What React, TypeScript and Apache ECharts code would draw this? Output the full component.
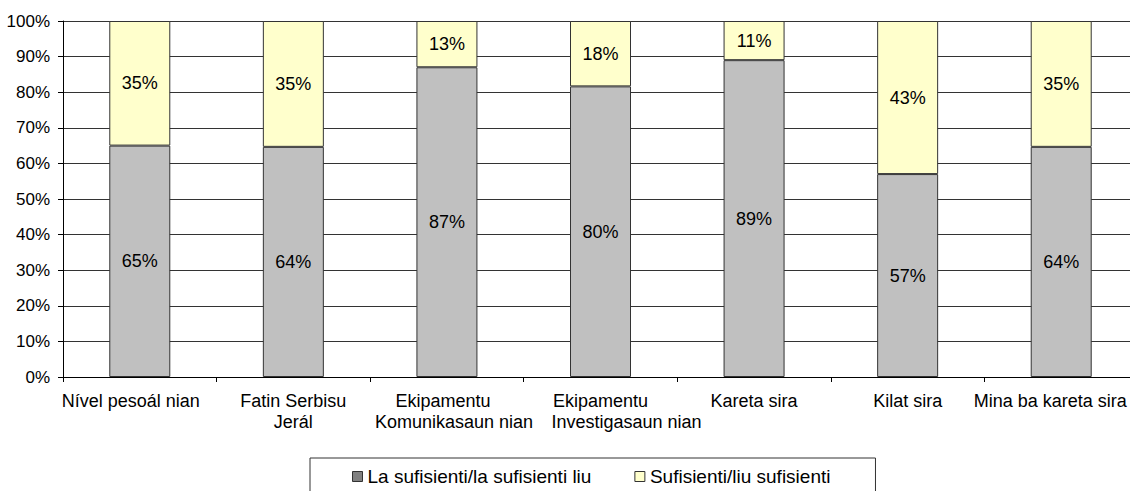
import React, { useEffect, useRef } from "react";
import * as echarts from "echarts";

const categories = [
  "Nível pesoál nian",
  "Fatin Serbisu\nJerál",
  "Ekipamentu\nKomunikasaun nian",
  "Ekipamentu\nInvestigasaun nian",
  "Kareta sira",
  "Kilat sira",
  "Mina ba kareta sira",
];
const insufficient = [65, 64, 87, 80, 89, 57, 64];
const sufficient = [35, 35, 13, 18, 11, 43, 35];
const seriesNames = ["La sufisienti/la sufisienti liu", "Sufisienti/liu sufisienti"];
const yTicks = [0, 10, 20, 30, 40, 50, 60, 70, 80, 90, 100];

// horizontal nudges (px) of each label line, as placed in the reference
const labelLineShift = [[-9], [0, 0], [-4, 7], [0, 26], [0], [0], [-11]];

const FONT = "'Liberation Sans', Arial, sans-serif";

export default function App() {
  const ref = useRef<HTMLDivElement>(null);
  useEffect(() => {
    if (!ref.current) return;
    const chart = echarts.init(ref.current, undefined, { renderer: "svg" });
    const totals = insufficient.map((v, i) => v + sufficient[i]);
    const mk = (arr: number[]) =>
      arr.map((v, i) => ({ value: (v / totals[i]) * 100, raw: v }));
    const labelCfg = {
      show: true,
      position: "inside",
      color: "#000",
      fontSize: 18,
      fontFamily: FONT,
      formatter: (p: any) => p.data.raw + "%",
    };
    const rich: Record<string, any> = {};
    labelLineShift.forEach((lines, i) =>
      lines.forEach((s, j) => {
        rich[`c${i}l${j}`] = {
          fontSize: 18,
          fontFamily: FONT,
          color: "#000",
          lineHeight: 21,
          align: "center",
          padding: s >= 0 ? [0, 0, 0, 2 * s] : [0, -2 * s, 0, 0],
        };
      })
    );
    chart.setOption({
      animation: false,
      textStyle: { fontFamily: FONT },
      grid: {
        left: 63,
        top: 21,
        height: 356,
        width: 1075,
        containLabel: false,
        outerBoundsMode: "none",
      },
      legend: {
        left: 310,
        top: 458,
        orient: "horizontal",
        borderColor: "#333",
        borderWidth: 1,
        borderRadius: 0,
        padding: [9, 45, 20, 42],
        itemGap: 43,
        itemWidth: 10,
        itemHeight: 10,
        icon: "rect",
        textStyle: { fontSize: 19, color: "#000", fontFamily: FONT },
        data: [
          { name: seriesNames[0], itemStyle: { color: "#808080", borderColor: "#333", borderWidth: 1 } },
          { name: seriesNames[1], itemStyle: { color: "#ffffcc", borderColor: "#333", borderWidth: 1 } },
        ],
      },
      xAxis: {
        type: "category",
        data: categories,
        boundaryGap: true,
        axisLine: { show: true, lineStyle: { color: "#000", width: 1 } },
        axisTick: { show: true, alignWithLabel: false, length: 5, lineStyle: { color: "#000" } },
        axisLabel: {
          interval: 0,
          color: "#000",
          fontSize: 18,
          fontFamily: FONT,
          margin: 13,
          lineHeight: 21,
          rich,
          formatter: (v: string, idx: number) =>
            v
              .split("\n")
              .map((line, j) => `{c${idx}l${j}|${line}}`)
              .join("\n"),
        },
        splitLine: { show: false },
      },
      yAxis: {
        type: "value",
        min: 0,
        max: 100,
        interval: 10,
        axisLine: { show: true, lineStyle: { color: "#000", width: 1 } },
        axisTick: { show: true, length: 5, lineStyle: { color: "#000" } },
        axisLabel: {
          color: "#000",
          fontSize: 17,
          fontFamily: FONT,
          margin: 13,
          formatter: (v: number) => (yTicks.includes(v) ? v + "%" : ""),
        },
        splitLine: { show: true, lineStyle: { color: "#333", width: 1 } },
      },
      series: [
        {
          name: seriesNames[0],
          type: "bar",
          stack: "s",
          barWidth: 61,
          data: mk(insufficient),
          itemStyle: { color: "#c0c0c0", borderColor: "#333", borderWidth: 1 },
          label: labelCfg,
        },
        {
          name: seriesNames[1],
          type: "bar",
          stack: "s",
          barWidth: 61,
          data: mk(sufficient),
          itemStyle: { color: "#ffffcc", borderColor: "#333", borderWidth: 1 },
          label: labelCfg,
        },
      ],
    });
    return () => chart.dispose();
  }, []);
  return (
    <div
      ref={ref}
      style={{ position: "fixed", left: 0, top: 0, width: 1140, height: 491, background: "#fff" }}
    />
  );
}
